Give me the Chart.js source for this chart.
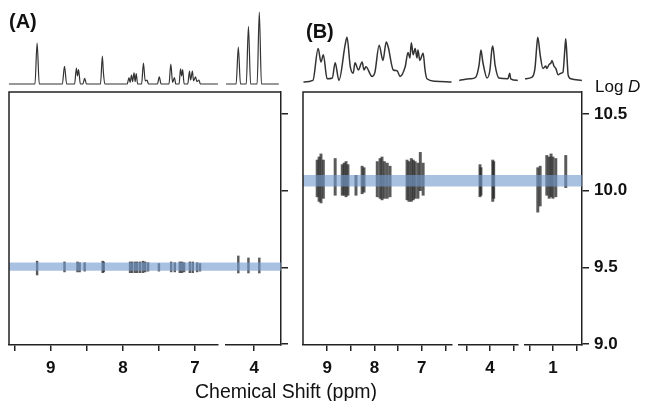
<!DOCTYPE html>
<html>
<head>
<meta charset="utf-8">
<script src="https://cdn.jsdelivr.net/npm/chart.js@4.4.0/dist/chart.umd.min.js"></script>
<style>
  body { margin: 0; background: #fff; }
  #wrap { position: relative; width: 649px; height: 401px; font-family: 'Liberation Sans', Arial, sans-serif; color: #111; }
  canvas { position: absolute; top: 0; }
  #cA { left: 0; }
  #cB { left: 295px; }
  .lbl { position: absolute; white-space: nowrap; line-height: 1; }
</style>
</head>
<body>
<div id="wrap">
  <canvas id="cA" width="295" height="401"></canvas>
  <canvas id="cB" width="354" height="401"></canvas>
  <div class="lbl" style="left:9px;top:11px;font-weight:bold;font-size:20px">(A)</div>
  <div class="lbl" style="left:306px;top:21px;font-weight:bold;font-size:20px">(B)</div>
  <div class="lbl" style="left:595px;top:78px;font-size:17px">Log <i>D</i></div>
  <div class="lbl" style="left:195px;top:382px;font-size:19.5px">Chemical Shift (ppm)</div>
</div>
<script>
// 1D 1H spectra, [ppm, intensity], one list per axis segment
const specA1 = [[9.58,0],[9.22,0],[9.19,51],[9.16,0],[8.84,0],[8.81,22],[8.78,0],
  [8.67,0],[8.645,20],[8.63,10],[8.615,18],[8.59,0],[8.555,0],[8.53,7],[8.505,0],
  [8.31,0],[8.285,35],[8.27,14],[8.25,0],
  [7.94,0],[7.915,8],[7.9,2],[7.88,11],[7.865,3],[7.845,14],[7.83,3],[7.815,13],[7.795,0],
  [7.74,0],[7.715,26],[7.69,4],[7.665,5],[7.645,0],[7.52,0],[7.495,9],[7.47,0],
  [7.36,0],[7.335,25],[7.31,2],[7.285,8],[7.265,0],[7.22,0],[7.2,19],[7.185,10],[7.17,18],[7.15,0],
  [7.1,0],[7.075,16],[7.06,5],[7.035,16],[7.02,4],[6.99,9],[6.975,3],[6.945,5],[6.925,0],[6.68,0]];
const specA2 = [[4.39,0],[4.25,0],[4.22,46],[4.19,0],[4.11,0],[4.08,72],[4.05,0],
  [3.96,0],[3.93,90],[3.9,0],[3.66,0]];
const specB1 = [[9.5,0],[9.3,2],[9.19,42],[9.13,25],[9.08,34],[9.0,4],[8.89,5],[8.83,24],[8.75,2],
  [8.62,46],[8.58,56],[8.51,19],[8.45,11],[8.41,24],[8.34,15],[8.26,25],[8.22,15],[8.18,19],
  [8.05,7],[7.99,12],[7.9,46],[7.82,27],[7.75,50],[7.71,44],[7.6,15],[7.52,14],[7.46,7],
  [7.35,19],[7.29,37],[7.25,30],[7.22,49],[7.18,34],[7.14,42],[7.1,30],[7.08,40],[7.04,27],
  [6.97,36],[6.93,15],[6.89,4],[6.72,1],[6.37,0]];
const specB2 = [[4.65,2],[4.42,4],[4.3,6],[4.23,21],[4.19,40],[4.15,25],[4.06,5],[4.0,15],
  [3.96,40],[3.94,45],[3.89,21],[3.81,5],[3.62,4],[3.58,11],[3.56,4],[3.41,2]];
const specB3 = [[1.59,4],[1.44,6],[1.38,17],[1.34,46],[1.32,56],[1.27,34],[1.21,17],[1.15,20],
  [1.13,17],[1.08,22],[1.04,24],[1.02,27],[0.98,20],[0.94,17],[0.89,9],[0.83,11],[0.79,12],
  [0.75,40],[0.73,54],[0.7,27],[0.68,9],[0.62,4],[0.39,2]];

// DOSY cross peaks, [ppm, logD low, logD high]
const peaksA1 = [[9.19,9.45,9.54],[8.81,9.47,9.535],[8.63,9.47,9.535],[8.6,9.47,9.53],[8.53,9.475,9.53],
  [8.28,9.465,9.54],[8.265,9.47,9.535],[7.9,9.465,9.535],[7.87,9.465,9.535],[7.83,9.465,9.535],
  [7.8,9.465,9.535],[7.76,9.465,9.535],[7.72,9.465,9.54],[7.69,9.47,9.535],[7.65,9.475,9.53],
  [7.5,9.475,9.525],[7.33,9.47,9.535],[7.28,9.47,9.53],[7.21,9.465,9.535],[7.18,9.465,9.535],
  [7.15,9.47,9.53],[7.07,9.465,9.535],[7.03,9.465,9.535],[6.97,9.47,9.53],[6.93,9.475,9.525]];
const peaksA2 = [[4.22,9.463,9.574],[4.08,9.463,9.561],[3.93,9.463,9.561]];
const peaksB1 = [[9.21,9.96,10.2],[9.17,9.93,10.22],[9.13,9.92,10.24],[9.08,9.95,10.2],
  [8.83,9.97,10.21],[8.68,9.97,10.17],[8.64,9.97,10.18],[8.6,9.96,10.19],[8.56,9.97,10.17],
  [8.39,9.97,10.1],[8.26,9.98,10.16],[8.22,9.99,10.15],
  [7.94,9.96,10.19],[7.88,9.95,10.21],[7.84,9.94,10.22],[7.79,9.95,10.19],[7.73,9.95,10.18],[7.67,9.96,10.16],
  [7.31,9.94,10.2],[7.27,9.93,10.19],[7.22,9.93,10.21],[7.18,9.94,10.2],[7.14,9.95,10.19],
  [7.08,9.95,10.18],[7.03,10.0,10.25],[6.97,9.97,10.18]];
const peaksB2 = [[4.21,9.96,10.17],[4.19,9.97,10.15],[3.94,9.93,10.2],[3.92,9.95,10.19]];
const peaksB3 = [[1.32,9.86,10.15],[1.27,9.9,10.16],[1.13,9.97,10.23],[1.08,9.95,10.22],
  [1.04,9.96,10.24],[1.0,9.95,10.22],[0.94,9.96,10.21],[0.73,10.02,10.23]];

// fitted diffusion band, [logD low, logD high]
const bandA = [9.478, 9.532];
const bandB = [10.027, 10.102];

const logDTicks = [9.0, 9.5, 10.0, 10.5];
const ppmTicksA1 = [9.5, 9, 8.5, 8, 7.5, 7];
const ppmTicksA2 = [4];
const ppmTicksB1 = [9, 8.5, 8, 7.5, 7, 6.5];
const ppmTicksB2 = [4.5, 4, 3.5];
const ppmTicksB3 = [1.5, 1, 0.5];

Chart.defaults.font.family = "'Liberation Sans', Arial, sans-serif";
const INK = '#222';

function noPad(s) {
  s.paddingTop = 0; s.paddingBottom = 0; s.paddingLeft = 0; s.paddingRight = 0;
}

function ppmAxis(min, max, ticks, weight) {
  return {
    type: 'linear', axis: 'x', position: 'bottom', stack: 'ppm', stackWeight: weight,
    reverse: true, min: min, max: max, offset: false, display: ticks !== null,
    afterBuildTicks: s => { s.ticks = (ticks || []).map(v => ({value: v})); },
    afterFit: s => { s.height = 56; noPad(s); },
    grid: { drawOnChartArea: false, drawTicks: true, tickLength: 6, color: INK, lineWidth: 1.5, offset: false },
    border: { display: true, color: INK, width: 1.5 },
    ticks: {
      autoSkip: false, maxRotation: 0, padding: 7, color: '#111',
      font: { size: 17, weight: 'bold' },
      callback: v => Math.abs(v - Math.round(v)) < 1e-6 ? String(Math.round(v)) : ''
    }
  };
}

function buildChart(id, segs, specs, peaks, band, specMin, showLabels, padLeft, axisWidth, look) {
  const scales = {};
  const datasets = [];
  segs.forEach((s, i) => {
    scales['x' + i] = ppmAxis(s.min, s.max, s.ticks, s.w);
  });
  scales.xFull = { type: 'linear', axis: 'x', position: 'bottom', min: 0, max: 1, display: false };
  scales.ySpec = { type: 'linear', axis: 'y', position: 'right', stack: 'ld', stackWeight: 88,
    min: specMin, max: specMin + 110, display: false };
  scales.yLogD = {
    type: 'linear', axis: 'y', position: 'right', stack: 'ld', stackWeight: 253,
    min: 8.993, max: 10.644, beginAtZero: false, offset: false,
    afterBuildTicks: s => { s.ticks = logDTicks.map(v => ({value: v})); },
    afterFit: s => { s.width = axisWidth; noPad(s); },
    grid: { drawOnChartArea: false, drawTicks: true, tickLength: 7, color: INK, lineWidth: 1.5, offset: false },
    border: { display: true, color: INK, width: 1.5 },
    ticks: { display: showLabels, padding: 5, color: '#111', font: { size: 17, weight: 'bold' },
      callback: v => v.toFixed(1) }
  };

  datasets.push({
    type: 'line', order: 0, xAxisID: 'xFull', yAxisID: 'yLogD',
    data: [{x: 0, y: band[1]}, {x: 1, y: band[1]}],
    fill: { value: band[0] }, backgroundColor: 'rgba(115,155,205,0.62)',
    borderWidth: 0, pointRadius: 0
  });
  specs.forEach((sp, i) => {
    if (!sp) return;
    datasets.push({
      type: 'line', order: 2, xAxisID: 'x' + i, yAxisID: 'ySpec',
      data: sp.map(p => ({x: p[0], y: p[1]})),
      borderColor: '#333', borderWidth: look.line, pointRadius: 0, fill: false,
      cubicInterpolationMode: 'monotone'
    });
  });
  peaks.forEach((pk, i) => {
    if (!pk) return;
    datasets.push({
      type: 'bar', order: 1, xAxisID: 'x' + i, yAxisID: 'yLogD', grouped: false,
      data: pk.map(p => ({x: p[0], y: [p[1], p[2]]})),
      backgroundColor: 'rgba(35,35,35,0.75)', borderWidth: 0, barThickness: look.bar
    });
  });

  const frame = {
    id: 'frame',
    afterDraw(chart) {
      const {ctx, chartArea} = chart;
      const y = chart.scales.yLogD;
      ctx.save();
      ctx.strokeStyle = INK;
      ctx.lineWidth = 1.5;
      ctx.beginPath();
      ctx.moveTo(chartArea.left, y.bottom);
      ctx.lineTo(chartArea.left, y.top);
      ctx.lineTo(chartArea.right, y.top);
      ctx.stroke();
      ctx.restore();
    }
  };

  new Chart(document.getElementById(id), {
    type: 'line',
    data: { datasets: datasets },
    options: {
      responsive: false, animation: false, events: [],
      layout: { autoPadding: false, padding: { left: padLeft, top: 4, right: 0, bottom: 0 } },
      plugins: { legend: { display: false }, tooltip: { enabled: false } },
      scales: scales
    },
    plugins: [frame]
  });
}

buildChart('cA',
  [{min: 6.68, max: 9.58, ticks: ppmTicksA1, w: 209},
   {min: 0, max: 1, ticks: null, w: 8},
   {min: 3.63, max: 4.39, ticks: ppmTicksA2, w: 55}],
  [specA1, null, specA2], [peaksA1, null, peaksA2], bandA, -10, false, 9, 14,
  {line: 1.2, bar: 1.8});

buildChart('cB',
  [{min: 6.36, max: 9.51, ticks: ppmTicksB1, w: 149},
   {min: 0, max: 1, ticks: null, w: 7},
   {min: 3.405, max: 4.655, ticks: ppmTicksB2, w: 59},
   {min: 0, max: 1, ticks: null, w: 7},
   {min: 0.387, max: 1.59, ticks: ppmTicksB3, w: 57}],
  [specB1, null, specB2, null, specB3], [peaksB1, null, peaksB2, null, peaksB3], bandB, -12.5, true, 8, 67,
  {line: 1.5, bar: 2.3});
</script>
</body>
</html>
